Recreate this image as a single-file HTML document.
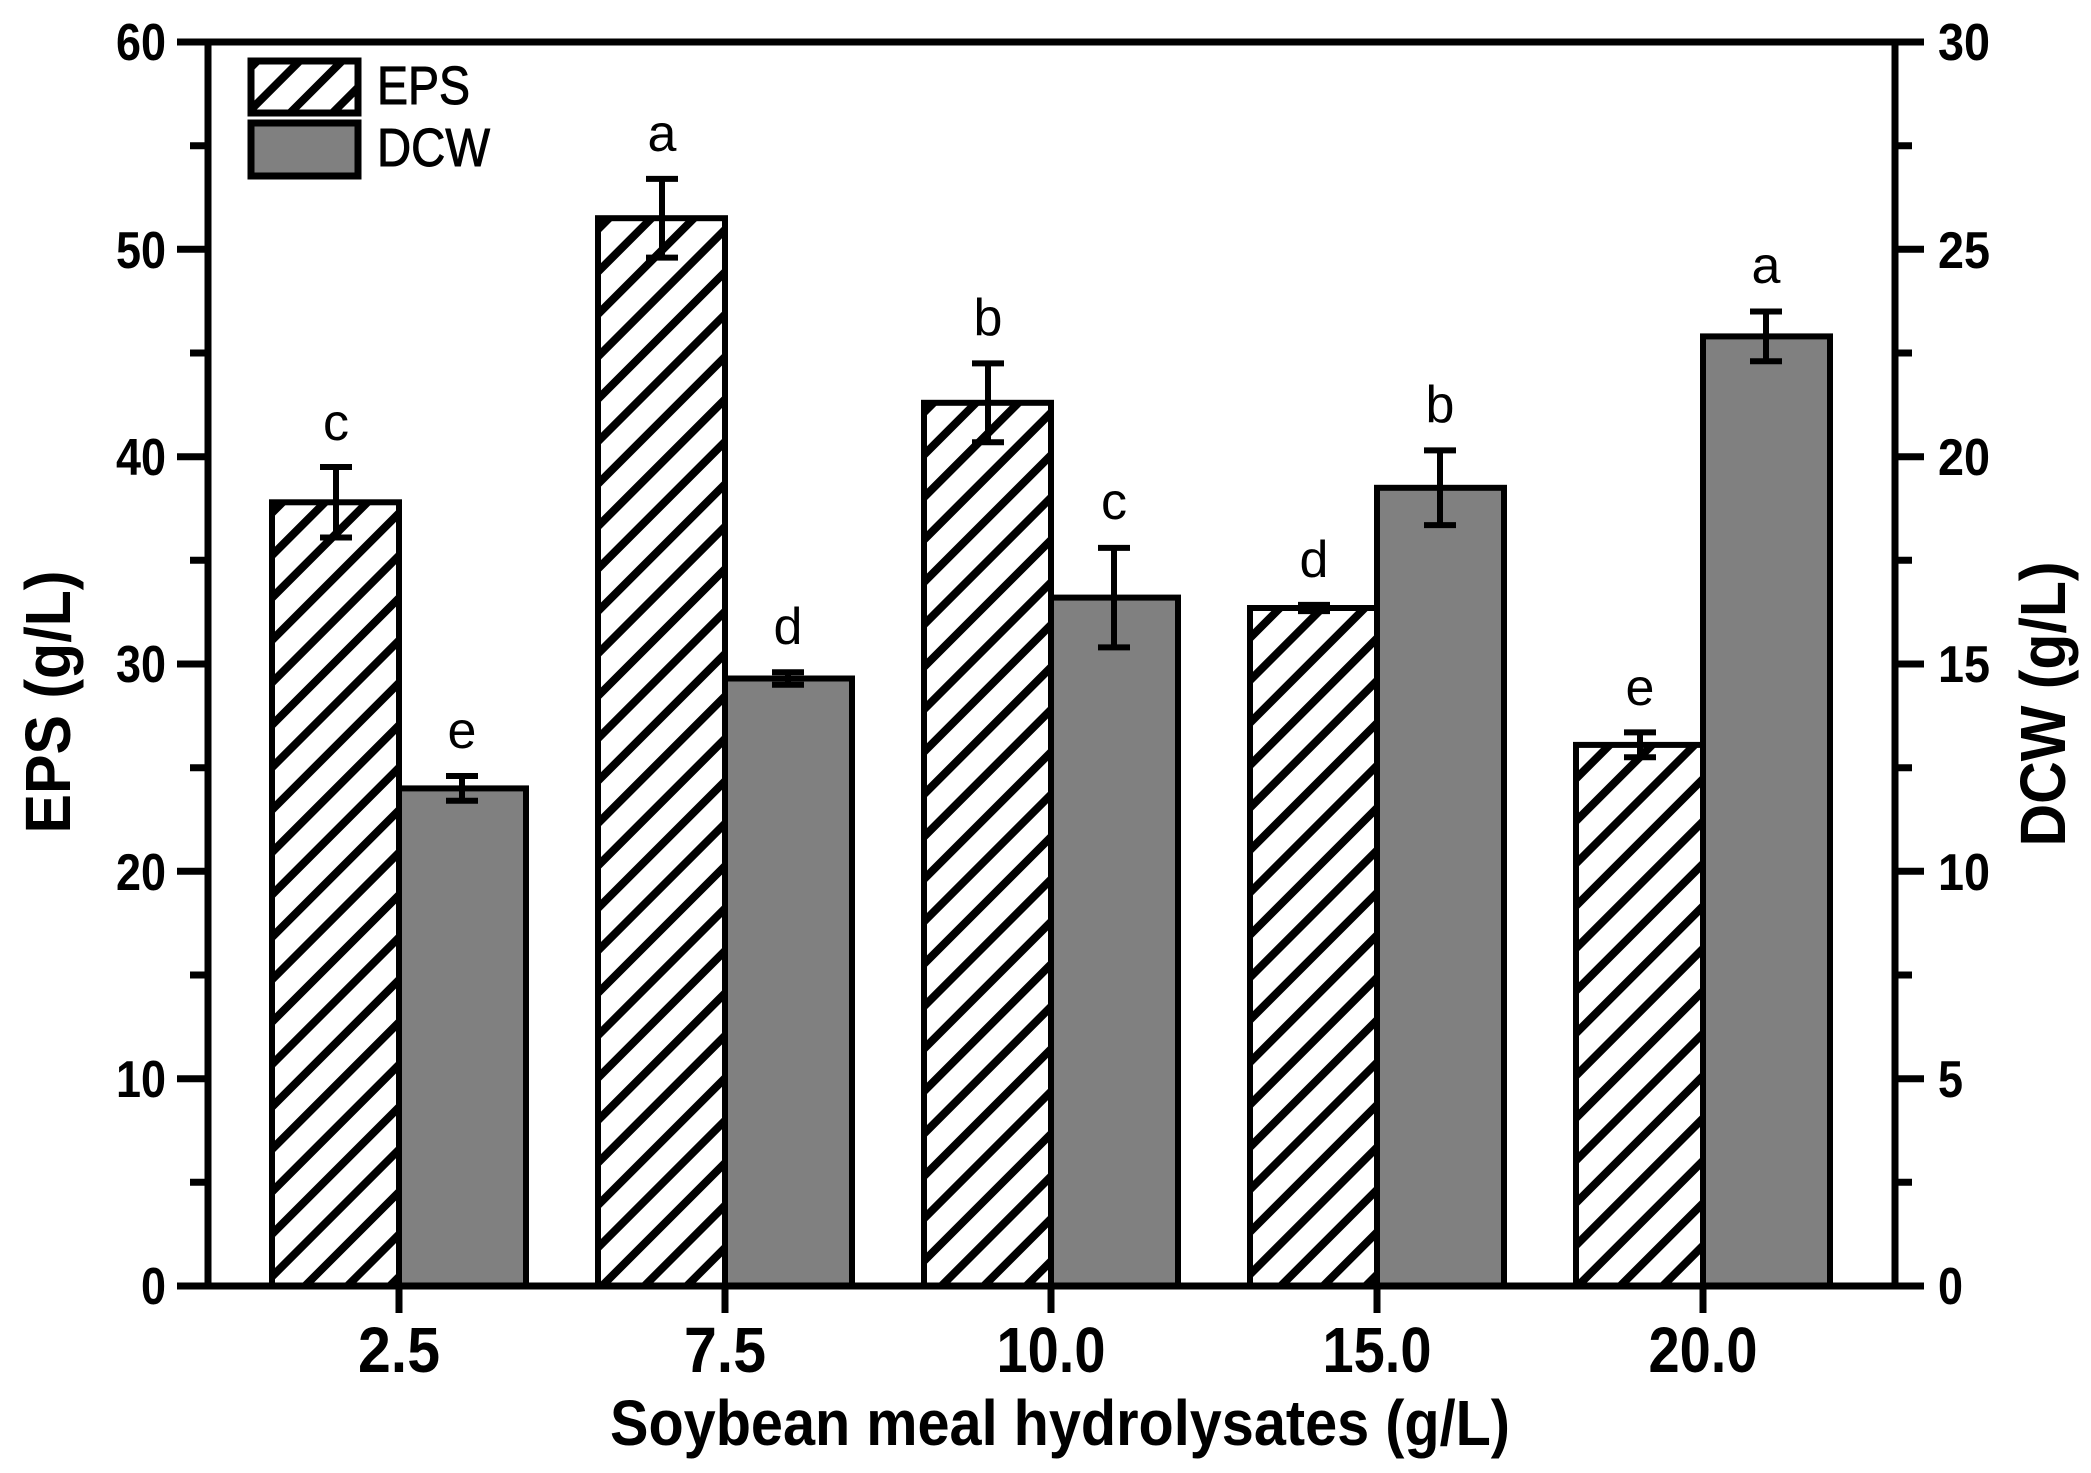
<!DOCTYPE html>
<html><head><meta charset="utf-8"><style>html,body{margin:0;padding:0;background:#fff}svg{display:block}</style></head>
<body>
<svg width="2091" height="1473" viewBox="0 0 2091 1473" xmlns="http://www.w3.org/2000/svg" font-family="'Liberation Sans', Arial, sans-serif">
<defs>
<pattern id="h" patternUnits="userSpaceOnUse" width="30" height="30" patternTransform="rotate(45)">
<rect width="30" height="30" fill="#fff"/>
<line x1="15" y1="-5" x2="15" y2="35" stroke="#000" stroke-width="8"/>
</pattern>
</defs>
<rect width="2091" height="1473" fill="#fff"/>
<g stroke="#000" stroke-width="6">
<rect x="272" y="502.3" width="127" height="783.7" fill="url(#h)"/>
<rect x="598" y="218.2" width="127" height="1067.8" fill="url(#h)"/>
<rect x="924" y="402.8" width="127" height="883.2" fill="url(#h)"/>
<rect x="1250" y="608" width="127" height="678" fill="url(#h)"/>
<rect x="1576" y="744.9" width="127" height="541.1" fill="url(#h)"/>
<rect x="399" y="788.4" width="127" height="497.6" fill="#808080"/>
<rect x="725" y="678.5" width="127" height="607.5" fill="#808080"/>
<rect x="1051" y="597.6" width="127" height="688.4" fill="#808080"/>
<rect x="1377" y="487.8" width="127" height="798.2" fill="#808080"/>
<rect x="1703" y="336.4" width="127" height="949.6" fill="#808080"/>
</g>
<g stroke="#000" stroke-width="6" fill="none">
<path d="M336 467V537.5M320 467H352M320 537.5H352"/>
<path d="M662 178.9V257.6M646 178.9H678M646 257.6H678"/>
<path d="M988 363.4V442.2M972 363.4H1004M972 442.2H1004"/>
<path d="M1314 604.9V611.1M1298 604.9H1330M1298 611.1H1330"/>
<path d="M1640 732.4V757.3M1624 732.4H1656M1624 757.3H1656"/>
<path d="M462 776V800.8M446 776H478M446 800.8H478"/>
<path d="M788 672.3V684.7M772 672.3H804M772 684.7H804"/>
<path d="M1114 547.9V647.4M1098 547.9H1130M1098 647.4H1130"/>
<path d="M1440 450.4V525.1M1424 450.4H1456M1424 525.1H1456"/>
<path d="M1766 311.5V361.3M1750 311.5H1782M1750 361.3H1782"/>
</g>
<g font-size="52" text-anchor="middle" fill="#000">
<text x="336" y="440">c</text>
<text x="662" y="151">a</text>
<text x="988" y="335">b</text>
<text x="1314" y="577">d</text>
<text x="1640" y="705">e</text>
<text x="462" y="748">e</text>
<text x="788" y="644">d</text>
<text x="1114" y="519">c</text>
<text x="1440" y="422">b</text>
<text x="1766" y="283">a</text>
</g>
<g stroke="#000" stroke-width="7" fill="none">
<path d="M177 42H1924M177 1286H1924M208 42V1286M1895 42V1286"/>
<path d="M177 1286H208M177 1078.7H208M177 871.3H208M177 664H208M177 456.7H208M177 249.3H208M177 42H208"/>
<path d="M190 1182.3H208M190 975H208M190 767.7H208M190 560.3H208M190 353H208M190 145.7H208"/>
<path d="M1895 1286H1924M1895 1078.7H1924M1895 871.3H1924M1895 664H1924M1895 456.7H1924M1895 249.3H1924M1895 42H1924"/>
<path d="M1895 1182.3H1912M1895 975H1912M1895 767.7H1912M1895 560.3H1912M1895 353H1912M1895 145.7H1912"/>
<path d="M399 1286V1313M725 1286V1313M1051 1286V1313M1377 1286V1313M1703 1286V1313"/>
</g>
<g font-size="52" font-weight="bold" text-anchor="end" fill="#000">
<text x="166" y="1304" textLength="25" lengthAdjust="spacingAndGlyphs">0</text>
<text x="166" y="1097" textLength="50" lengthAdjust="spacingAndGlyphs">10</text>
<text x="166" y="890" textLength="50" lengthAdjust="spacingAndGlyphs">20</text>
<text x="166" y="682" textLength="50" lengthAdjust="spacingAndGlyphs">30</text>
<text x="166" y="475" textLength="50" lengthAdjust="spacingAndGlyphs">40</text>
<text x="166" y="268" textLength="50" lengthAdjust="spacingAndGlyphs">50</text>
<text x="166" y="60" textLength="50" lengthAdjust="spacingAndGlyphs">60</text>
</g>
<g font-size="52" font-weight="bold" fill="#000">
<text x="1938" y="1304" textLength="25" lengthAdjust="spacingAndGlyphs">0</text>
<text x="1938" y="1097" textLength="25" lengthAdjust="spacingAndGlyphs">5</text>
<text x="1938" y="890" textLength="52" lengthAdjust="spacingAndGlyphs">10</text>
<text x="1938" y="682" textLength="52" lengthAdjust="spacingAndGlyphs">15</text>
<text x="1938" y="475" textLength="52" lengthAdjust="spacingAndGlyphs">20</text>
<text x="1938" y="268" textLength="52" lengthAdjust="spacingAndGlyphs">25</text>
<text x="1938" y="60" textLength="52" lengthAdjust="spacingAndGlyphs">30</text>
</g>
<g font-size="64" font-weight="bold" text-anchor="middle" fill="#000">
<text x="399" y="1372" textLength="82" lengthAdjust="spacingAndGlyphs">2.5</text>
<text x="725" y="1372" textLength="82" lengthAdjust="spacingAndGlyphs">7.5</text>
<text x="1051" y="1372" textLength="109" lengthAdjust="spacingAndGlyphs">10.0</text>
<text x="1377" y="1372" textLength="109" lengthAdjust="spacingAndGlyphs">15.0</text>
<text x="1703" y="1372" textLength="109" lengthAdjust="spacingAndGlyphs">20.0</text>
<text x="1060" y="1445" textLength="900" lengthAdjust="spacingAndGlyphs">Soybean meal hydrolysates (g/L)</text>
<text transform="translate(70,702) rotate(-90)" textLength="263" lengthAdjust="spacingAndGlyphs">EPS (g/L)</text>
<text transform="translate(2065,704) rotate(-90)" textLength="285" lengthAdjust="spacingAndGlyphs">DCW (g/L)</text>
</g>
<rect x="251" y="61" width="107" height="52" fill="url(#h)" stroke="#000" stroke-width="7"/>
<rect x="251" y="123" width="107" height="53" fill="#808080" stroke="#000" stroke-width="7"/>
<g font-size="54" fill="#000" stroke="#000" stroke-width="1">
<text x="377" y="104" textLength="93" lengthAdjust="spacingAndGlyphs">EPS</text>
<text x="377" y="166" textLength="113" lengthAdjust="spacingAndGlyphs">DCW</text>
</g>
</svg>
</body></html>
